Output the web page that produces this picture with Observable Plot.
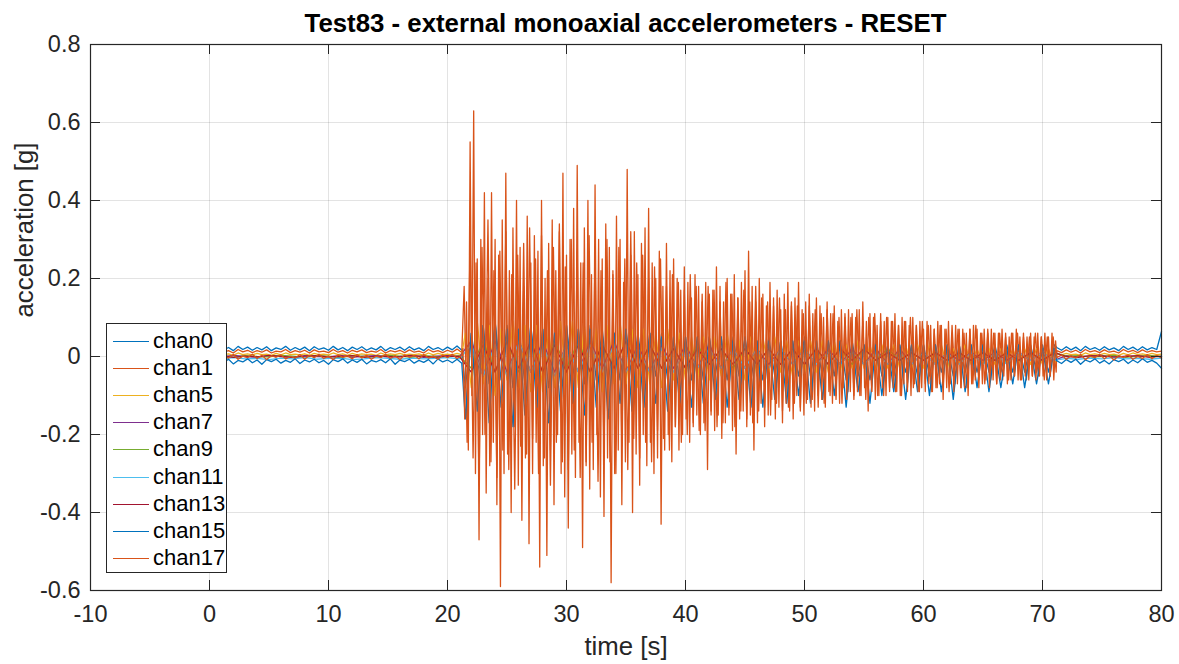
<!DOCTYPE html>
<html><head><meta charset="utf-8">
<script src="https://cdn.jsdelivr.net/npm/d3@7"></script>
<script src="https://cdn.jsdelivr.net/npm/@observablehq/plot@0.6"></script>
<style>
body{margin:0;background:#fff;font-family:"Liberation Sans",Arial,Helvetica,sans-serif;color:#262626}
#wrap{position:relative;width:1179px;height:664px;overflow:hidden;background:#fff}
#title{position:absolute;left:90px;width:1071px;top:8px;line-height:30px;text-align:center;font-weight:bold;font-size:25.8px;color:#000;white-space:nowrap}
#chart{position:absolute;left:0;top:40px}
#legend{position:absolute;left:106px;top:323px;width:121px;height:250px;background:#fff;border:1px solid #262626;box-sizing:border-box}
.item{position:absolute;left:0;width:119px;height:24px}
.item .sw{position:absolute;left:6px;width:36px;top:12px;height:1.3px}
.item .lb{position:absolute;left:46px;top:0;line-height:24px;font-size:22px;color:#000}
</style></head>
<body><div id="wrap"><div id="title">Test83 - external monoaxial accelerometers - RESET</div><div id="chart"></div><div id="legend"></div></div>
<script>
// ---- axis ticks ----
const xTicks = [-10, 0, 10, 20, 30, 40, 50, 60, 70, 80];
const xTickLabels = ["-10", "0", "10", "20", "30", "40", "50", "60", "70", "80"];
const yTicks = [-0.6, -0.4, -0.2, 0, 0.2, 0.4, 0.6, 0.8];
const yTickLabels = ["-0.6", "-0.4", "-0.2", "0", "0.2", "0.4", "0.6", "0.8"];

// ---- channels ----
const channels = ["chan0", "chan1", "chan5", "chan7", "chan9", "chan11", "chan13", "chan15", "chan17"];
const colors = ["#0072BD", "#D95319", "#EDB120", "#7E2F8E", "#77AC30", "#4DBEEE", "#A2142F", "#0072BD", "#D95319"];

// sampling of each stored segment: [start time, step] (seconds)
const preSampling = [0, 0.4];
const postSampling = [71.2, 0.4];
const strongSampling = [21.5, 0.5];     // chan0, chan5, chan15
const strong1Sampling = [21.4, 0.25];   // chan1
const strong17Sampling = [21.3, 0.15];  // chan17
const hidPreSampling = [0, 1];
const hidStrongSampling = [22, 1];
const hidPostSampling = [72, 1];

// ---- chan0 ----
const chan0Pre = [0.022,0.016,0.025,0.017,0.023,0.015,0.026,0.018,0.024,0.016,
 0.023,0.017,0.025,0.015,0.022,0.018,0.026,0.016,0.023,0.017,
 0.024,0.015,0.025,0.018,0.022,0.016,0.026,0.017,0.023,0.015,
 0.024,0.018,0.025,0.016,0.022,0.017,0.026,0.015,0.023,0.018,
 0.024,0.016,0.025,0.017,0.022,0.015,0.026,0.018,0.023,0.016,
 0.024,0.017,0.027,0.016];
const chan0Strong = [-0.08,0.06,-0.05,0.08,-0.07,0.09,-0.06,0.08,-0.08,0.07,
 -0.07,0.08,-0.06,0.07,-0.08,0.06,-0.07,0.08,-0.06,0.07,
 -0.07,0.08,-0.06,0.07,-0.07,0.06,-0.06,0.07,-0.06,0.06,
 -0.06,0.06,-0.05,0.06,-0.06,0.05,-0.06,0.05,-0.06,0.05,
 -0.06,0.05,-0.05,0.05,-0.06,0.05,-0.05,0.05,-0.06,0.04,
 -0.06,0.05,-0.05,0.04,-0.06,0.04,-0.05,0.05,-0.05,0.04,
 -0.05,0.04,-0.05,0.04,-0.06,0.04,-0.05,0.03,-0.06,0.04,
 -0.05,0.03,-0.05,0.03,-0.04,0.03,-0.05,0.03,-0.05,0.03,
 -0.04,0.03,-0.05,0.03,-0.04,0.03,-0.04,0.03,-0.04,0.03,
 -0.04,0.03,-0.04,0.03,-0.04,0.03,-0.04,0.03,-0.04,0.03];
const chan0Post = [0.023,0.016,0.025,0.017,0.024,0.015,0.026,0.018,0.023,0.016,0.025,0.017,0.022,0.015,0.026,0.018,0.024,0.016,0.025,0.017,0.023,0.018,0.064];

// ---- chan1 ----
const chan1Pre = [0.014,0.010,0.017,0.011,0.015,0.009,0.018,0.012,0.016,0.010,
 0.015,0.011,0.017,0.009,0.014,0.012,0.018,0.010,0.015,0.011,
 0.016,0.009,0.017,0.012,0.014,0.010,0.018,0.011,0.015,0.009,
 0.016,0.012,0.017,0.010,0.014,0.011,0.018,0.009,0.015,0.012,
 0.016,0.010,0.017,0.011,0.014,0.009,0.018,0.012,0.015,0.010,
 0.016,0.011,0.019,0.010];
const chan1Strong = [0.18,-0.22,0.30,-0.26,0.24,-0.33,0.28,-0.20,0.35,-0.27,0.22,-0.31,0.27,-0.24,0.32,-0.29,0.21,-0.34,0.26,-0.23,
 0.29,-0.25,0.33,-0.21,0.25,-0.30,0.31,-0.26,0.22,-0.33,0.28,-0.22,0.34,-0.27,0.23,-0.29,0.30,-0.24,0.27,-0.31,
 0.24,-0.28,0.31,-0.22,0.26,-0.32,0.22,-0.25,0.30,-0.27,0.21,-0.30,0.28,-0.23,0.25,-0.29,0.32,-0.21,0.24,-0.26,
 0.26,-0.22,0.20,-0.27,0.23,-0.19,0.25,-0.21,0.18,-0.24,0.21,-0.18,0.19,-0.22,0.17,-0.20,0.21,-0.17,0.18,-0.19,
 0.16,-0.19,0.18,-0.15,0.17,-0.18,0.14,-0.17,0.19,-0.15,0.16,-0.18,0.15,-0.14,0.17,-0.16,0.14,-0.17,0.18,-0.14,
 0.15,-0.13,0.14,-0.15,0.13,-0.12,0.15,-0.14,0.12,-0.13,0.14,-0.12,0.13,-0.14,0.11,-0.12,0.13,-0.11,0.12,-0.13,
 0.11,-0.12,0.12,-0.10,0.11,-0.11,0.10,-0.12,0.11,-0.09,0.10,-0.11,0.12,-0.10,0.09,-0.11,0.10,-0.09,0.11,-0.10,
 0.09,-0.10,0.10,-0.08,0.09,-0.09,0.08,-0.10,0.09,-0.08,0.10,-0.08,0.08,-0.09,0.09,-0.07,0.08,-0.09,0.07,-0.08,
 0.08,-0.08,0.07,-0.09,0.08,-0.07,0.07,-0.08,0.06,-0.08,0.07,-0.07,0.08,-0.06,0.06,-0.07,0.07,-0.06,0.06,-0.07,
 0.06,-0.06,0.05,-0.06,0.06,-0.05,0.06,-0.06,0.05,-0.06,0.05,-0.05,0.06,-0.05,0.05,-0.06,0.05,-0.05,0.05,-0.04];
const chan1Post = [0.015,0.010,0.017,0.011,0.016,0.009,0.018,0.012,0.015,0.010,0.017,0.011,0.014,0.009,0.018,0.012,0.016,0.010,0.017,0.011,0.015,0.012,0.014];

// ---- chan5 ----
const chan5Pre = [0.006,0.004,0.008,0.005,0.007,0.003,0.009,0.005,0.007,0.004,
 0.008,0.005,0.006,0.003,0.008,0.004,0.009,0.005,0.006,0.004,
 0.007,0.003,0.008,0.005,0.006,0.004,0.009,0.005,0.007,0.003,
 0.008,0.004,0.007,0.005,0.006,0.003,0.009,0.004,0.007,0.005,
 0.008,0.004,0.006,0.005,0.007,0.003,0.009,0.004,0.008,0.005,
 0.006,0.004,0.008,0.005];
const chan5Strong = [0.06,-0.08,0.09,-0.07,0.08,-0.10,0.07,-0.06,0.09,-0.08,
 0.08,-0.09,0.08,-0.09,0.07,-0.08,0.09,-0.07,0.09,-0.08,
 0.08,-0.08,0.07,-0.09,0.08,-0.07,0.09,-0.07,0.07,-0.08,
 0.07,-0.07,0.06,-0.08,0.07,-0.06,0.06,-0.06,0.05,-0.06,
 0.05,-0.06,0.05,-0.05,0.06,-0.05,0.04,-0.06,0.05,-0.05,
 0.05,-0.04,0.05,-0.04,0.04,-0.05,0.04,-0.04,0.04,-0.04,
 0.04,-0.04,0.04,-0.04,0.03,-0.03,0.04,-0.03,0.03,-0.03,
 0.03,-0.03,0.03,-0.03,0.03,-0.03,0.03,-0.03,0.03,-0.02,
 0.03,-0.03,0.02,-0.02,0.03,-0.02,0.02,-0.02,0.02,-0.02,
 0.02,-0.02,0.02,-0.02,0.02,-0.02,0.02,-0.02,0.02,-0.02];
const chan5Post = [0.007,0.004,0.008,0.005,0.006,0.003,0.009,0.005,0.007,0.004,0.008,0.005,0.006,0.003,0.008,0.004,0.009,0.005,0.007,0.004,0.008,0.005,0.006];

// ---- chan7, chan9, chan11, chan13 (underneath) ----
const chan7Pre = [0.002,-0.001,0.003,0.000,-0.002,0.002,0.001,-0.003,0.002,0.000,-0.001,0.003,-0.002,0.001,0.002,-0.001,0.000,0.003,-0.002,0.001,0.002,-0.001];
const chan7Strong = [0.04,-0.05,0.04,-0.04,0.04,-0.04,0.04,-0.04,0.03,-0.04,0.04,-0.03,0.04,-0.04,0.03,-0.04,0.03,-0.03,0.03,-0.03,0.03,-0.03,0.02,-0.03,0.02,-0.02,0.02,-0.02,0.02,-0.02,0.02,-0.02,0.02,-0.02,0.02,-0.02,0.02,-0.02,0.01,-0.02,0.01,-0.01,0.01,-0.01,0.01,-0.01,0.01,-0.01,0.01,-0.01];
const chan7Post = [0.002,-0.001,0.001,0.003,-0.002,0.001,0.000,0.002,-0.001];
const chan9Pre = [0.001,0.003,-0.002,0.002,0.000,-0.001,0.003,0.001,-0.002,0.002,0.001,-0.003,0.002,0.000,-0.001,0.003,0.001,-0.002,0.002,0.000,-0.001,0.002];
const chan9Strong = [-0.03,0.04,-0.04,0.04,-0.04,0.03,-0.04,0.04,-0.03,0.04,-0.04,0.03,-0.03,0.04,-0.03,0.03,-0.03,0.02,-0.03,0.03,-0.02,0.02,-0.03,0.02,-0.02,0.02,-0.02,0.02,-0.02,0.02,-0.02,0.02,-0.02,0.02,-0.01,0.02,-0.01,0.01,-0.01,0.01,-0.01,0.01,-0.01,0.01,-0.01,0.01,-0.01,0.01,-0.01,0.01];
const chan9Post = [0.001,0.002,-0.001,0.000,0.003,-0.002,0.001,0.002,0.000];
const chan11Pre = [-0.004,-0.007,-0.003,-0.006,-0.005,-0.008,-0.004,-0.006,-0.003,-0.007,-0.005,-0.004,-0.008,-0.006,-0.003,-0.005,-0.007,-0.004,-0.006,-0.005,-0.003,-0.006];
const chan11Strong = [0.03,-0.05,0.03,-0.05,0.04,-0.04,0.03,-0.05,0.03,-0.04,0.03,-0.04,0.03,-0.04,0.02,-0.04,0.02,-0.04,0.02,-0.03,0.02,-0.03,0.02,-0.03,0.02,-0.03,0.02,-0.02,0.02,-0.02,0.01,-0.02,0.01,-0.02,0.01,-0.02,0.01,-0.02,0.01,-0.02,0.01,-0.02,0.01,-0.02,0.01,-0.02,0.01,-0.01,0.01,-0.01];
const chan11Post = [-0.005,-0.007,-0.004,-0.006,-0.003,-0.006,-0.005,-0.007,-0.004];
const chan13Pre = [0.000,0.002,-0.002,0.001,-0.001,0.003,0.000,-0.002,0.001,0.002,-0.001,0.000,0.002,-0.002,0.001,0.000,-0.001,0.002,0.000,-0.002,0.001,0.000];
const chan13Strong = [-0.04,0.03,-0.04,0.04,-0.03,0.04,-0.04,0.03,-0.04,0.03,-0.04,0.03,-0.03,0.04,-0.03,0.03,-0.03,0.02,-0.03,0.02,-0.02,0.02,-0.02,0.02,-0.02,0.02,-0.02,0.02,-0.02,0.02,-0.02,0.02,-0.01,0.02,-0.01,0.01,-0.01,0.01,-0.01,0.01,-0.01,0.01,-0.01,0.01,-0.01,0.01,-0.01,0.01,-0.01,0.01];
const chan13Post = [0.000,-0.002,0.002,0.001,-0.001,0.000,0.002,-0.002,0.001];

// ---- chan15 ----
const chan15Pre = [-0.012,-0.018,-0.008,-0.015,-0.007,-0.019,-0.010,-0.014,-0.006,-0.016,
 -0.009,-0.020,-0.008,-0.013,-0.007,-0.017,-0.010,-0.015,-0.006,-0.018,
 -0.009,-0.014,-0.007,-0.016,-0.010,-0.020,-0.008,-0.013,-0.006,-0.017,
 -0.009,-0.015,-0.007,-0.019,-0.010,-0.014,-0.008,-0.016,-0.006,-0.020,
 -0.009,-0.013,-0.007,-0.017,-0.010,-0.015,-0.008,-0.019,-0.006,-0.014,
 -0.009,-0.016,-0.007,-0.017];
const chan15Strong = [-0.16,0.06,-0.14,0.08,-0.17,0.09,-0.13,0.07,-0.18,0.07,
 -0.15,0.08,-0.13,0.07,-0.17,0.06,-0.14,0.08,-0.12,0.07,
 -0.15,0.07,-0.13,0.06,-0.16,0.06,-0.12,0.07,-0.14,0.05,
 -0.13,0.06,-0.12,0.05,-0.14,0.05,-0.12,0.05,-0.13,0.05,
 -0.12,0.05,-0.11,0.05,-0.13,0.04,-0.11,0.05,-0.13,0.04,
 -0.13,0.04,-0.11,0.04,-0.12,0.04,-0.10,0.04,-0.12,0.04,
 -0.11,0.04,-0.10,0.04,-0.13,0.03,-0.09,0.03,-0.12,0.03,
 -0.10,0.03,-0.09,0.03,-0.11,0.03,-0.09,0.03,-0.10,0.03,
 -0.09,0.03,-0.11,0.03,-0.09,0.03,-0.08,0.03,-0.09,0.02,
 -0.08,0.02,-0.07,0.03,-0.08,0.02,-0.07,0.02,-0.07,0.02];
const chan15Post = [-0.011,-0.018,-0.008,-0.015,-0.007,-0.020,-0.009,-0.014,-0.006,-0.017,-0.010,-0.019,-0.008,-0.013,-0.007,-0.018,-0.009,-0.016,-0.006,-0.015,-0.010,-0.017,-0.030];

// ---- chan17 (dominant) ----
const chan17Pre = [-0.002,0.004,-0.006,0.002,-0.004,0.005,-0.007,0.001,-0.003,0.006,
 -0.005,0.003,-0.008,0.002,-0.002,0.004,-0.006,0.000,-0.004,0.005,
 -0.007,0.003,-0.003,0.006,-0.005,0.001,-0.008,0.004,-0.002,0.002,
 -0.006,0.005,-0.004,0.003,-0.007,0.001,-0.003,0.006,-0.005,0.002,
 -0.008,0.004,-0.002,0.003,-0.006,0.005,-0.004,0.001,-0.007,0.004,
 -0.003,0.006,-0.005,0.002];
const chan17Strong = [0.02,-0.16,0.14,-0.24,0.55,-0.10,0.63,-0.30,0.25,-0.47,0.30,-0.20,0.42,-0.35,0.20,-0.28,0.42,-0.22,0.30,-0.38,
 0.26,-0.59,0.35,-0.30,0.47,-0.25,0.22,-0.40,0.33,-0.18,0.40,-0.33,0.28,-0.42,0.18,-0.26,0.36,-0.48,0.24,-0.30,
 0.31,-0.22,0.27,-0.54,0.40,-0.28,0.20,-0.51,0.29,-0.24,0.35,-0.38,0.22,-0.20,0.32,-0.30,0.47,-0.36,0.26,-0.44,
 0.30,-0.25,0.38,-0.31,0.49,-0.22,0.24,-0.49,0.33,-0.27,0.40,-0.34,0.21,-0.29,0.44,-0.20,0.30,-0.36,0.25,-0.41,
 0.34,-0.26,0.28,-0.58,0.22,-0.30,0.36,-0.24,0.30,-0.38,0.19,-0.27,0.48,-0.22,0.26,-0.40,0.32,-0.25,0.21,-0.33,
 0.29,-0.20,0.33,-0.28,0.38,-0.22,0.24,-0.30,0.20,-0.26,0.27,-0.43,0.18,-0.24,0.29,-0.20,0.22,-0.27,0.25,-0.18,
 0.20,-0.24,0.17,-0.20,0.23,-0.16,0.19,-0.22,0.15,-0.18,0.21,-0.15,0.18,-0.20,0.14,-0.17,0.19,-0.29,0.16,-0.14,
 0.17,-0.19,0.23,-0.15,0.18,-0.21,0.14,-0.17,0.20,-0.13,0.16,-0.19,0.21,-0.25,0.15,-0.16,0.19,-0.14,0.22,-0.18,
 0.27,-0.15,0.18,-0.24,0.14,-0.17,0.20,-0.12,0.16,-0.18,0.13,-0.15,0.19,-0.11,0.15,-0.16,0.17,-0.13,0.12,-0.17,
 0.16,-0.12,0.19,-0.14,0.13,-0.16,0.15,-0.10,0.19,-0.13,0.12,-0.15,0.14,-0.11,0.16,-0.13,0.11,-0.14,0.15,-0.10,
 0.13,-0.11,0.10,-0.13,0.14,-0.09,0.11,-0.12,0.13,-0.10,0.09,-0.12,0.12,-0.08,0.10,-0.11,0.12,-0.09,0.11,-0.10,
 0.10,-0.09,0.12,-0.10,0.14,-0.08,0.09,-0.14,0.11,-0.09,0.10,-0.11,0.08,-0.10,0.11,-0.08,0.09,-0.10,0.10,-0.09,
 0.09,-0.08,0.11,-0.09,0.08,-0.10,0.10,-0.07,0.09,-0.09,0.08,-0.10,0.10,-0.07,0.08,-0.09,0.09,-0.08,0.07,-0.09,
 0.09,-0.07,0.08,-0.09,0.07,-0.08,0.09,-0.07,0.08,-0.11,0.07,-0.08,0.09,-0.07,0.06,-0.09,0.08,-0.07,0.07,-0.08,
 0.07,-0.08,0.06,-0.10,0.07,-0.07,0.08,-0.06,0.07,-0.08,0.06,-0.07,0.07,-0.06,0.06,-0.08,0.07,-0.06,0.06,-0.07,
 0.06,-0.06,0.07,-0.05,0.06,-0.07,0.05,-0.06,0.06,-0.05,0.07,-0.06,0.05,-0.06,0.06,-0.05,0.05,-0.06,0.06,-0.05,
 0.05,-0.06,0.06,-0.05,0.05,-0.05,0.06,-0.06,0.05,-0.05,0.06,-0.06,0.04];
const chan17Post = [-0.003,0.004,-0.007,0.002,-0.004,0.005,-0.008,0.001,-0.003,0.006,-0.006,0.003,-0.009,0.002,-0.002,0.004,-0.007,0.000,-0.005,0.005,-0.006,0.003,-0.004];

// ---- assemble ----
function seg(sampling, values) {
  const [t0, dt] = sampling;
  return values.map((v, i) => ({t: +(t0 + i * dt).toFixed(3), v}));
}
const series = [
  [...seg(preSampling, chan0Pre), ...seg(strongSampling, chan0Strong), ...seg(postSampling, chan0Post)],
  [...seg(preSampling, chan1Pre), ...seg(strong1Sampling, chan1Strong), ...seg(postSampling, chan1Post)],
  [...seg(preSampling, chan5Pre), ...seg(strongSampling, chan5Strong), ...seg(postSampling, chan5Post)],
  [...seg(hidPreSampling, chan7Pre), ...seg(hidStrongSampling, chan7Strong), ...seg(hidPostSampling, chan7Post)],
  [...seg(hidPreSampling, chan9Pre), ...seg(hidStrongSampling, chan9Strong), ...seg(hidPostSampling, chan9Post)],
  [...seg(hidPreSampling, chan11Pre), ...seg(hidStrongSampling, chan11Strong), ...seg(hidPostSampling, chan11Post)],
  [...seg(hidPreSampling, chan13Pre), ...seg(hidStrongSampling, chan13Strong), ...seg(hidPostSampling, chan13Post)],
  [...seg(preSampling, chan15Pre), ...seg(strongSampling, chan15Strong), ...seg(postSampling, chan15Post)],
  [...seg(preSampling, chan17Pre), ...seg(strong17Sampling, chan17Strong), ...seg(postSampling, chan17Post)]
];

const W = 1179, H = 624;
const mL = 90, mR = 18, mT = 4, mB = 74;
const innerW = W - mL - mR, innerH = H - mT - mB;
const axisColor = "#262626";

const chart = Plot.plot({
  width: W, height: H,
  marginLeft: mL, marginRight: mR, marginTop: mT, marginBottom: mB,
  x: {domain: [xTicks[0], xTicks[xTicks.length - 1]], label: null},
  y: {domain: [yTicks[0], yTicks[yTicks.length - 1]], label: null},
  style: {fontFamily: '"Liberation Sans", Arial, Helvetica, sans-serif', fontSize: "23.5px", color: axisColor, background: "white", overflow: "visible"},
  marks: [
    Plot.gridX(xTicks, {stroke: axisColor, strokeOpacity: 0.13}),
    Plot.gridY(yTicks, {stroke: axisColor, strokeOpacity: 0.13}),
    ...series.map((s, k) => Plot.line(s, {x: "t", y: "v", stroke: colors[k], strokeWidth: 1.3})),
    Plot.frame({stroke: axisColor, strokeWidth: 1.2}),
    Plot.tickX(xTicks, {x: d => d, stroke: axisColor, insetTop: innerH - 10}),
    Plot.tickX(xTicks, {x: d => d, stroke: axisColor, insetBottom: innerH - 10}),
    Plot.tickY(yTicks, {y: d => d, stroke: axisColor, insetRight: innerW - 10}),
    Plot.tickY(yTicks, {y: d => d, stroke: axisColor, insetLeft: innerW - 10}),
    Plot.axisX(xTicks, {tickSize: 0, tickPadding: 15, label: null, fill: axisColor, fontSize: 23.5,
      tickFormat: d => xTickLabels[xTicks.indexOf(d)]}),
    Plot.axisY(yTicks, {tickSize: 0, tickPadding: 10, label: null, fill: axisColor, fontSize: 23.5,
      tickFormat: d => yTickLabels[yTicks.indexOf(d)]}),
    Plot.text(["time [s]"], {text: d => d, frameAnchor: "bottom", dy: 64, fontSize: 25.8, fill: axisColor}),
    Plot.text(["acceleration [g]"], {text: d => d, frameAnchor: "left", rotate: -90, dx: -66, fontSize: 25.8, fill: axisColor})
  ]
});
document.getElementById("chart").appendChild(chart);

// legend
const leg = document.getElementById("legend");
channels.forEach((name, k) => {
  const it = document.createElement("div");
  it.className = "item";
  it.style.top = Math.round(5 + k * 27.1) + "px";
  const sw = document.createElement("div");
  sw.className = "sw";
  sw.style.background = colors[k];
  const lb = document.createElement("div");
  lb.className = "lb";
  lb.textContent = name;
  it.appendChild(sw); it.appendChild(lb);
  leg.appendChild(it);
});
</script></body></html>
